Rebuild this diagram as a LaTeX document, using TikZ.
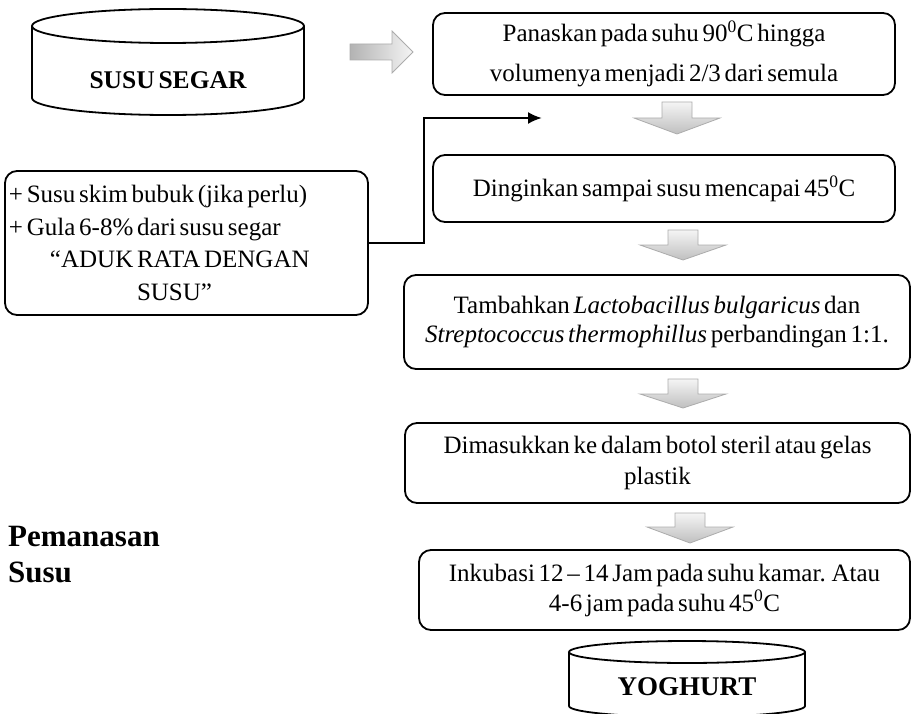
\documentclass[tikz,border=0pt]{standalone}
\usepackage{fontspec}
\setmainfont[WordSpace=0.6]{Liberation Serif}
\usetikzlibrary{arrows.meta}
\newcommand{\grayDown}[4]{%
  \draw[blockarrow] (#1-15,-#2) -- (#1+15,-#2) -- (#1+15,-#3) -- (#1+43,-#3) -- (#1,-#4) -- (#1-43,-#3) -- (#1-15,-#3) -- cycle;}
\begin{document}
\begin{tikzpicture}[x=1pt,y=1pt,
  stepbox/.style={draw, line width=1.8pt, rounded corners=12pt, align=flush center, inner sep=0pt},
  blockarrow/.style={draw=gray!65, line width=0.8pt, top color=gray!8, bottom color=gray!50},
  cyl/.style={draw, line width=1.8pt, fill=white},
  cyltext/.style={font=\fontsize{25.5}{28}\selectfont\bfseries, inner sep=0pt, anchor=base},
  link/.style={line width=2.2pt, line join=miter, -{Latex[length=14pt,width=12pt]}}
  ]
\useasboundingbox (0,0) rectangle (912,-714);

% SUSU SEGAR cylinder
\draw[cyl] (32,-26) -- (32,-98) arc[start angle=180,end angle=360,x radius=136,y radius=17] -- (304,-26);
\draw[cyl] (168,-26) ellipse [x radius=136, y radius=17];
\node[cyltext] (susu) at (168,-89) {SUSU SEGAR};

% right block arrow
\draw[draw=gray!65, line width=0.8pt, left color=gray!60, right color=gray!8]
  (350,-44) -- (392,-44) -- (392,-31) -- (413,-52) -- (392,-73) -- (392,-60) -- (350,-60) -- cycle;

% process boxes
\node[stepbox, minimum width=462, minimum height=82, font=\fontsize{25}{40}\selectfont] (b1) at (664,-54)
  {Panaskan pada suhu 90\textsuperscript{0}C hingga\\ volumenya menjadi 2/3 dari semula};
\node[stepbox, minimum width=462, minimum height=67, font=\fontsize{25}{30}\selectfont] (b2) at (664,-188.5)
  {Dinginkan sampai susu mencapai 45\textsuperscript{0}C};
\node[stepbox, minimum width=506, minimum height=94, font=\fontsize{25}{29}\selectfont] (b3) at (657,-322)
  {Tambahkan \textit{Lactobacillus bulgaricus} dan\\ \textit{Streptococcus thermophillus} perbandingan 1:1.};
\node[stepbox, minimum width=505, minimum height=80, font=\fontsize{25}{31}\selectfont] (b4) at (657.5,-463)
  {Dimasukkan ke dalam botol steril atau gelas\\ plastik};
\node[stepbox, minimum width=491, minimum height=80, font=\fontsize{25}{30}\selectfont] (b5) at (664.5,-590)
  {Inkubasi 12 – 14 Jam pada suhu kamar. Atau\\ 4-6 jam pada suhu 45\textsuperscript{0}C};

% additive box
\node[stepbox, align=flush left, text width=355, minimum width=363, minimum height=144, font=\fontsize{25}{32.5}\selectfont] (lbox) at (186.5,-243)
  {+ Susu skim bubuk (jika perlu)\\ + Gula 6-8\% dari susu segar\\ \hspace*{41pt}“ADUK RATA DENGAN\\ \hspace*{128pt}SUSU”};

% connector
\coordinate (mixin) at (542,-118);
\draw[link] (lbox.east) -- ++(55,0) |- (mixin);

% down block arrows
\grayDown{677}{102}{118}{134}
\grayDown{683}{230}{245}{260}
\grayDown{683}{379}{394}{408}
\grayDown{690}{513}{527}{543}

% YOGHURT cylinder
\draw[cyl] (569,-652) -- (569,-706) arc[start angle=180,end angle=360,x radius=118,y radius=11] -- (805,-652);
\draw[cyl] (687,-652) ellipse [x radius=118, y radius=11];
\node[cyltext, font=\fontsize{27}{30}\selectfont\bfseries] (yog) at (687,-695) {YOGHURT};

% side label
\node[anchor=north west, inner sep=0pt, align=left, font=\fontsize{31}{36}\selectfont\bfseries] (pem) at (8,-526)
  {Pemanasan\\Susu};
\end{tikzpicture}
\end{document}
